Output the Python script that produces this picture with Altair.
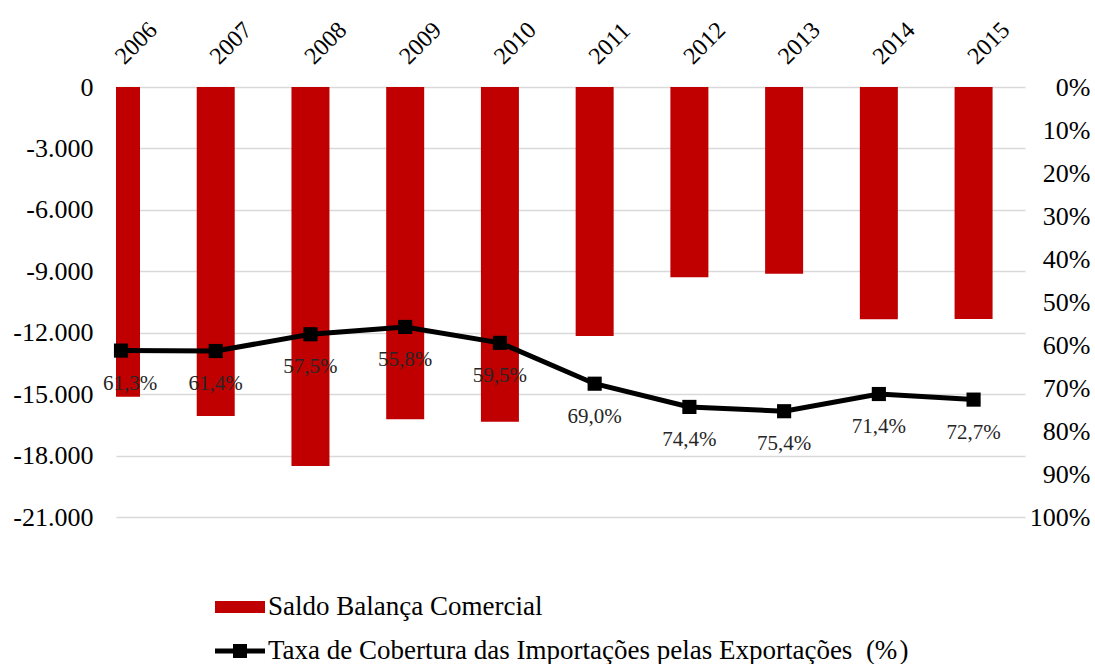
import altair as alt
import pandas as pd

# Balança comercial (saldo) e taxa de cobertura, 2006-2015
anos = [2006, 2007, 2008, 2009, 2010, 2011, 2012, 2013, 2014, 2015]
saldo = [-15125, -16070, -18510, -16230, -16345, -12160, -9295, -9115, -11345, -11330]
taxa = [61.3, 61.4, 57.5, 55.8, 59.5, 69.0, 74.4, 75.4, 71.4, 72.7]

serie_barras = "Saldo Balança Comercial"
serie_linha = "Taxa de Cobertura das Importações pelas Exportações\u00a0 (%\u200a)"

saldo_ticks = [0, -3000, -6000, -9000, -12000, -15000, -18000, -21000]
taxa_ticks = [0, 10, 20, 30, 40, 50, 60, 70, 80, 90, 100]

FONT = "Liberation Serif"
VERMELHO = "#c00000"

df_barras = pd.DataFrame({"ano": anos, "saldo": saldo, "serie": serie_barras})
df_linha = pd.DataFrame({"ano": anos, "taxa": taxa, "serie": serie_linha})

x_enc = alt.X(
    "ano:Q",
    scale=alt.Scale(domain=[2006, 2015.49], nice=False, zero=False),
    axis=alt.Axis(
        orient="top",
        values=anos,
        format="d",
        title=None,
        grid=False,
        domain=False,
        ticks=False,
        labelAngle=-45,
        labelAlign="left",
        labelBaseline="alphabetic",
        labelPadding=22,
        labelOffset=3,
        labelFont=FONT,
        labelFontSize=24,
        labelColor="black",
        labelFlush=False,
        labelOverlap=False,
    ),
)

barras = (
    alt.Chart(df_barras)
    .mark_bar(size=38, clip=True)
    .encode(
        x=x_enc,
        y=alt.Y(
            "saldo:Q",
            scale=alt.Scale(domain=[-21000, 0], nice=False),
            axis=alt.Axis(
                orient="left",
                values=saldo_ticks,
                title=None,
                domain=False,
                ticks=False,
                grid=True,
                gridColor="#d9d9d9",
                gridWidth=1.4,
                labelPadding=23,
                labelFont=FONT,
                labelFontSize=26,
                labelColor="black",
                labelExpr="datum.value < 0 ? '-' + replace(format(-datum.value, ',d'), ',', '.') : '0'",
            ),
        ),
        y2=alt.datum(0),
        color=alt.Color(
            "serie:N",
            scale=alt.Scale(domain=[serie_barras], range=[VERMELHO]),
            legend=alt.Legend(
                orient="none",
                legendX=99,
                legendY=495,
                title=None,
                padding=0,
                symbolType="M-1,-0.24H1V0.24H-1Z",
                symbolSize=2500,
                symbolStrokeWidth=0,
                labelFont=FONT,
                labelFontSize=27,
                labelColor="black",
                labelOffset=3,
                labelLimit=900,
            ),
        ),
    )
)

y_taxa = alt.Y(
    "taxa:Q",
    scale=alt.Scale(domain=[0, 100], reverse=True, nice=False),
    axis=alt.Axis(
        orient="right",
        values=taxa_ticks,
        title=None,
        domain=False,
        ticks=False,
        grid=False,
        labelAlign="right",
        labelPadding=65,
        labelFont=FONT,
        labelFontSize=26,
        labelColor="black",
        labelExpr="datum.value + '%'",
    ),
)

base_linha = alt.Chart(df_linha).encode(x=x_enc, y=y_taxa)

linha = base_linha.mark_line(color="black", strokeWidth=5)

pontos = base_linha.mark_square(size=200, filled=True, opacity=1).encode(
    color=alt.Color(
        "serie:N",
        scale=alt.Scale(domain=[serie_linha], range=["black"]),
        legend=alt.Legend(
            orient="none",
            legendX=99,
            legendY=539,
            title=None,
            padding=0,
            symbolType="M-1,-0.1H-0.28V-0.28H0.28V-0.1H1V0.1H0.28V0.28H-0.28V0.1H-1Z",
            symbolSize=2500,
            symbolStrokeWidth=0,
            labelFont=FONT,
            labelFontSize=27,
            labelColor="black",
            labelOffset=3,
            labelLimit=900,
        ),
    )
)

rotulo = "replace(format(datum.taxa, '.1f'), '.', ',') + '%'"

rotulos = (
    base_linha.transform_filter("datum.ano > 2006")
    .transform_calculate(rotulo=rotulo)
    .mark_text(dy=33, font=FONT, fontSize=21, color="#262626")
    .encode(text="rotulo:N")
)

rotulo_inicial = (
    base_linha.transform_filter("datum.ano == 2006")
    .transform_calculate(rotulo=rotulo)
    .mark_text(dy=33, dx=9, font=FONT, fontSize=21, color="#262626")
    .encode(text="rotulo:N")
)

camada_taxa = alt.layer(linha, pontos, rotulos, rotulo_inicial)

chart = (
    alt.layer(barras, camada_taxa)
    .resolve_scale(y="independent", color="independent")
    .resolve_legend(color="independent")
    .properties(
        width=909,
        height=430,
        padding={"left": 116, "top": 87, "right": 70, "bottom": 147},
        autosize=alt.AutoSizeParams(type="none"),
        background="white",
    )
    .configure(font=FONT)
    .configure_axis(labelFont=FONT, titleFont=FONT)
    .configure_legend(labelFont=FONT, titleFont=FONT)
    .configure_text(font=FONT)
    .configure_view(stroke=None)
)

chart.save("out.html", embed_options={"renderer": "svg", "actions": False})
